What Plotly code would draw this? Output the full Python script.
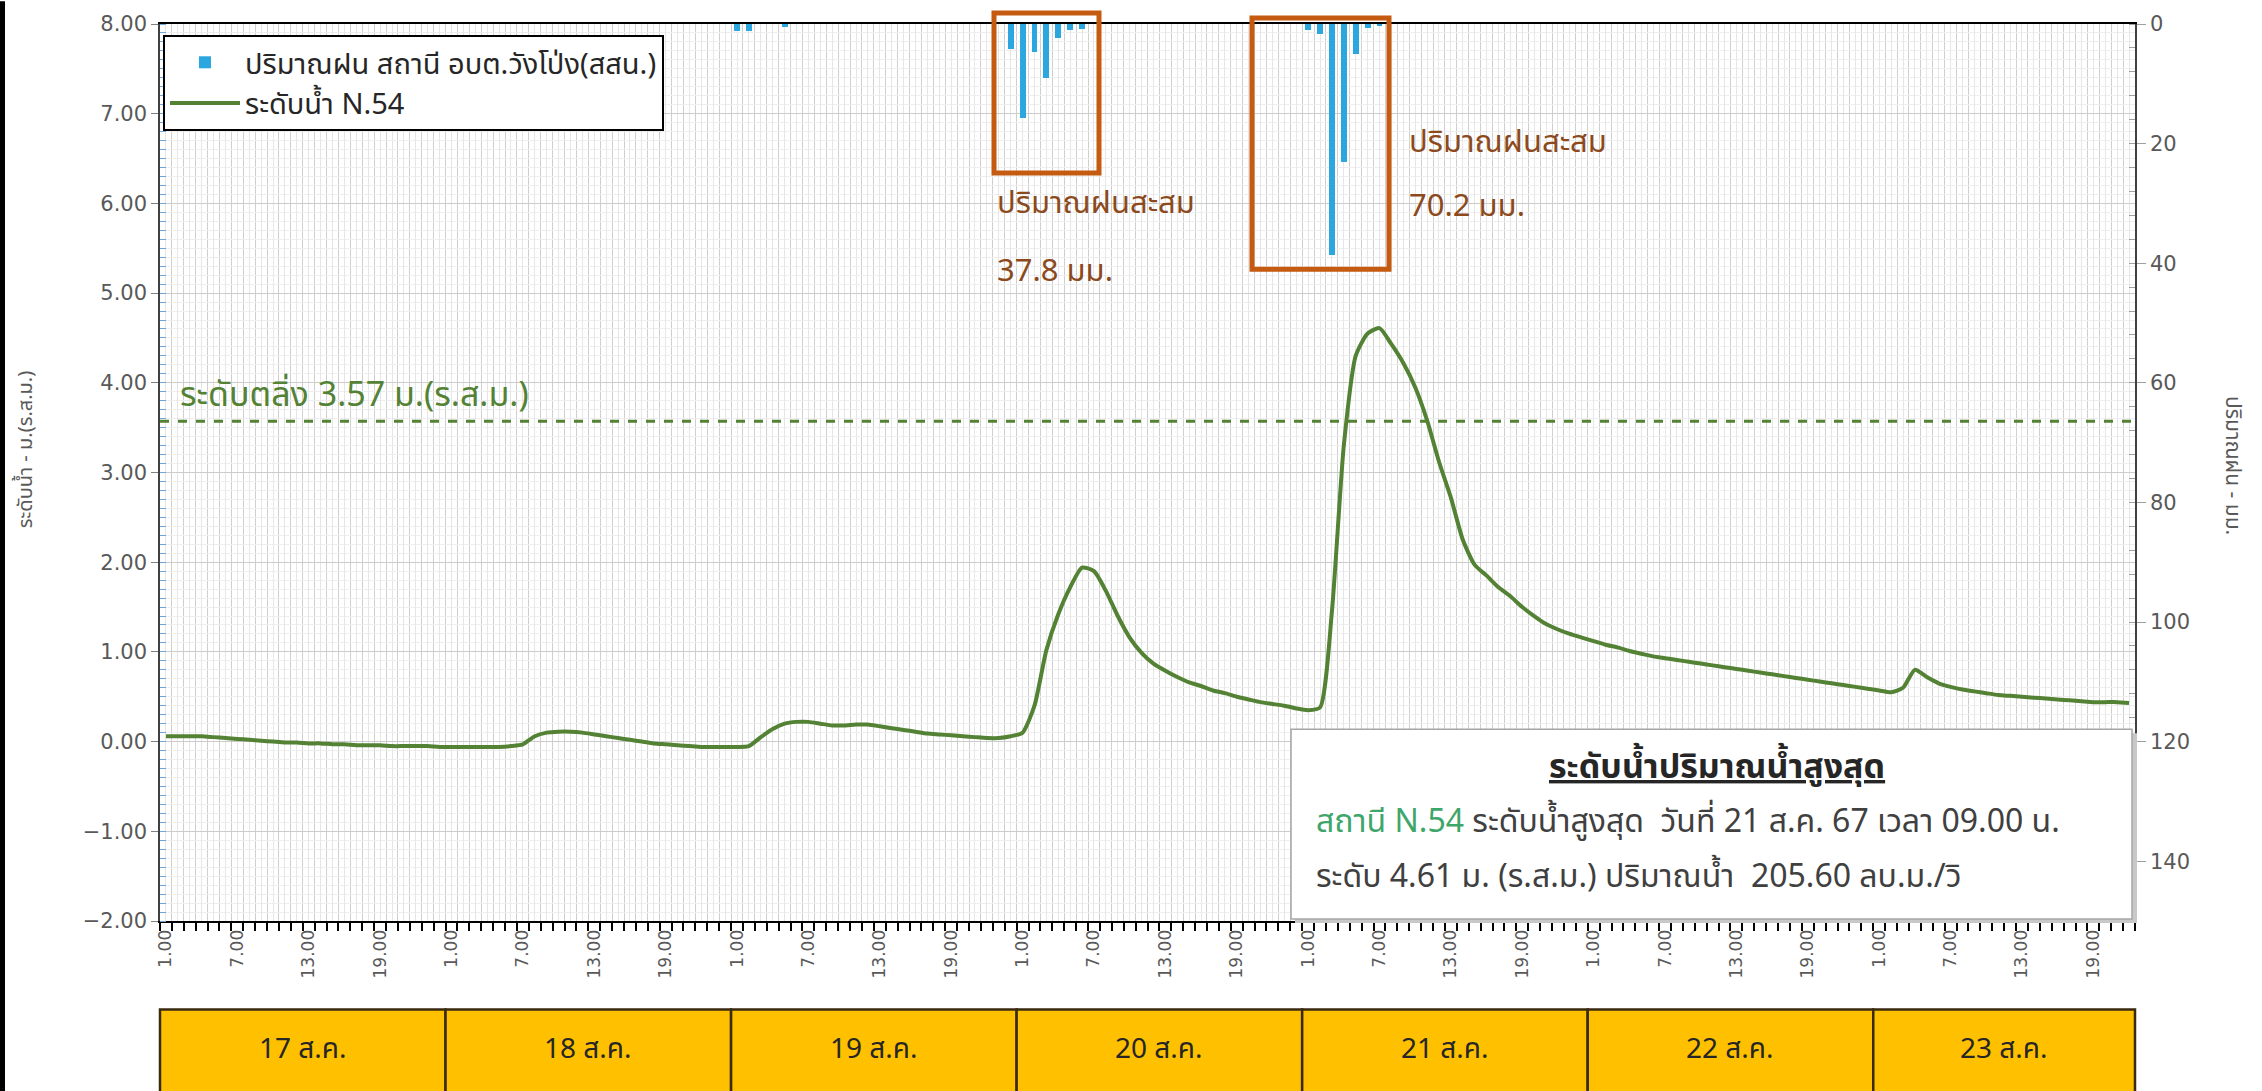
import plotly.graph_objects as go

# ---------------- data ----------------
DAYS = ["17 ส.ค.", "18 ส.ค.", "19 ส.ค.", "20 ส.ค.", "21 ส.ค.", "22 ส.ค.", "23 ส.ค."]
HOUR_TICKS = {1: "1.00", 7: "7.00", 13: "13.00", 19: "19.00"}

# hourly water level N.54 (m. MSL), starting 17 Aug 1.00
water_level = [
    # 17 Aug
    0.06, 0.06, 0.06, 0.06, 0.05, 0.04, 0.03, 0.02, 0.01, 0.00, -0.01, -0.01,
    -0.02, -0.02, -0.03, -0.03, -0.04, -0.04, -0.04, -0.05, -0.05, -0.05, -0.05, -0.06,
    # 18 Aug
    -0.06, -0.06, -0.06, -0.06, -0.06, -0.05, -0.03, 0.06, 0.10, 0.11, 0.11, 0.10,
    0.08, 0.06, 0.04, 0.02, 0.00, -0.02, -0.03, -0.04, -0.05, -0.06, -0.06, -0.06,
    # 19 Aug
    -0.06, -0.05, 0.05, 0.14, 0.20, 0.22, 0.22, 0.20, 0.18, 0.18, 0.19, 0.19,
    0.17, 0.15, 0.13, 0.11, 0.09, 0.08, 0.07, 0.06, 0.05, 0.04, 0.04, 0.06,
    # 20 Aug
    0.10, 0.40, 1.02, 1.42, 1.72, 1.94, 1.90, 1.68, 1.40, 1.16, 0.99, 0.87,
    0.79, 0.72, 0.66, 0.62, 0.57, 0.54, 0.50, 0.47, 0.44, 0.42, 0.40, 0.37,
    # 21 Aug
    0.35, 0.38, 1.45, 3.30, 4.30, 4.55, 4.61, 4.43, 4.22, 3.95, 3.58, 3.12,
    2.72, 2.25, 1.97, 1.85, 1.72, 1.62, 1.50, 1.40, 1.31, 1.25, 1.20, 1.16,
    # 22 Aug
    1.12, 1.08, 1.05, 1.01, 0.98, 0.95, 0.93, 0.91, 0.89, 0.87, 0.85, 0.83,
    0.81, 0.79, 0.77, 0.75, 0.73, 0.71, 0.69, 0.67, 0.65, 0.63, 0.61, 0.59,
    # 23 Aug
    0.57, 0.55, 0.60, 0.80, 0.72, 0.65, 0.61, 0.58, 0.56, 0.54, 0.52, 0.51,
    0.50, 0.49, 0.48, 0.47, 0.46, 0.45, 0.44, 0.44, 0.44, 0.43,
]

# hourly rainfall (mm) at the hours where rain fell (index from 17 Aug 1.00)
rain_index = [48, 49, 52, 71, 72, 73, 74, 75, 76, 77, 96, 97, 98, 99, 100, 101, 102]
rain_mm = [1.2, 1.2, 0.5, 4.2, 15.8, 4.6, 9.0, 2.4, 1.0, 0.8, 1.0, 1.6, 38.6, 23.0, 5.0, 0.6, 0.4]

BANK_LEVEL = 3.57
RAIN_TOTALS = ["37.8 มม.", "70.2 มม."]

N = len(water_level)
hours = list(range(N))

# ---------------- styling ----------------
THAI = "Noto Sans Thai, Leelawadee UI, Tahoma, Noto Sans, sans-serif"
NUM = "DejaVu Sans, Verdana, sans-serif"
GREEN = "#548235"
ORANGE = "#c55a11"
BROWN = "#8c4a1c"
GREY_TXT = "#595959"

tickvals = hours
ticktext = [HOUR_TICKS.get(i % 24 + 1, "") for i in hours]

fig = go.Figure()

fig.add_trace(go.Bar(
    x=rain_index, y=rain_mm, yaxis="y2", width=0.5,
    name="ปริมาณฝน สถานี อบต.วังโป่ง(สสน.)",
    marker=dict(color="#2ba6de", line=dict(width=0)),
))
fig.add_trace(go.Scatter(
    x=hours, y=water_level, mode="lines", name="ระดับน้ำ N.54",
    line=dict(color=GREEN, width=4, shape="spline", smoothing=0.6),
))

ML, MR, MT, MB = 160, 127, 18, 170
W, H = 2262, 1091
PW, PH = W - ML - MR, H - MT - MB


def px(xf):
    return (xf - ML) / PW


def py(yf):
    return 1 - (yf - MT) / PH


fig.update_layout(
    width=W, height=H,
    margin=dict(l=ML, r=MR, t=MT, b=MB),
    paper_bgcolor="white", plot_bgcolor="white",
    bargap=0,
    showlegend=True,
    legend=dict(
        x=px(163), y=py(29), xanchor="left", yanchor="top",
        bgcolor="white", bordercolor="black", borderwidth=2,
        font=dict(family=THAI, size=29, color="#262626"),
        tracegroupgap=6, itemwidth=70,
    ),
    xaxis=dict(
        range=[-0.5, N - 0.5],
        tickmode="array", tickvals=tickvals, ticktext=ticktext,
        tickangle=-90, ticks="outside", ticklen=0,
        tickfont=dict(family=NUM, size=17, color=GREY_TXT),
        showgrid=True, gridcolor="#e6e6e6", gridwidth=1,
        showline=True, linecolor="black", linewidth=2, mirror=True,
        zeroline=False,
        minor=dict(tick0=-0.5, dtick=1, ticks="outside", ticklen=8, tickwidth=2,
                   tickcolor="black", showgrid=True, gridcolor="#cfcfcf", gridwidth=1),
    ),
    yaxis=dict(
        range=[-2, 8], tickmode="linear", tick0=-2, dtick=1, tickformat=".2f",
        tickfont=dict(family=NUM, size=21, color=GREY_TXT),
        ticks="outside", ticklen=7, tickcolor="#808080",
        showgrid=True, gridcolor="#cccccc", gridwidth=1,
        showline=True, linecolor="#404040", linewidth=1.5,
        zeroline=False,
        minor=dict(dtick=0.1, ticks="inside", ticklen=6, tickcolor="#6fa8dc",
                   showgrid=True, gridcolor="#eeeeee", gridwidth=1),
    ),
    yaxis2=dict(
        overlaying="y", side="right", range=[150, 0],
        tickmode="linear", tick0=0, dtick=20,
        tickfont=dict(family=NUM, size=21, color=GREY_TXT),
        ticks="outside", ticklen=9, tickcolor="#a0a0a0",
        showgrid=False, zeroline=False,
        showline=True, linecolor="#404040", linewidth=1.5,
        minor=dict(dtick=4, ticks="inside", ticklen=6, tickcolor="#a0a0a0", showgrid=False),
    ),
)

shapes = []
annotations = []

# bank level dashed line
shapes.append(dict(type="line", xref="paper", yref="y", x0=0, x1=1,
                   y0=BANK_LEVEL, y1=BANK_LEVEL,
                   line=dict(color=GREEN, width=3, dash="dash"), layer="above"))
annotations.append(dict(xref="paper", yref="paper", x=px(178), y=py(392),
                        xanchor="left", yanchor="middle", showarrow=False,
                        text=f"ระดับตลิ่ง {BANK_LEVEL:.2f} ม.(ร.ส.ม.)",
                        font=dict(family=THAI, size=34, color=GREEN)))

# rainfall accumulation frames
frames = [((994, 7), (1099, 168)), ((1252, 12), (1389, 265))]
for (x0, y0), (x1, y1) in frames:
    shapes.append(dict(type="rect", xref="paper", yref="paper",
                       x0=px(x0), x1=px(x1), y0=py(y1), y1=py(y0),
                       line=dict(color=ORANGE, width=5), fillcolor="rgba(0,0,0,0)",
                       layer="above"))
notes = [((995, 199), (995, 267)), ((1407, 137), (1407, 202))]
for (a, b), tot in zip(notes, RAIN_TOTALS):
    annotations.append(dict(xref="paper", yref="paper", x=px(a[0]), y=py(a[1]),
                            xanchor="left", yanchor="middle", showarrow=False,
                            text="ปริมาณฝนสะสม",
                            font=dict(family=THAI, size=31, color=BROWN)))
    annotations.append(dict(xref="paper", yref="paper", x=px(b[0]), y=py(b[1]),
                            xanchor="left", yanchor="middle", showarrow=False,
                            text=tot, font=dict(family=THAI, size=31, color=BROWN)))

# info box with shadow
shapes.append(dict(type="rect", xref="paper", yref="paper",
                   x0=px(1295), x1=px(2137), y0=py(923), y1=py(732),
                   line=dict(width=0), fillcolor="#c8c8c8", layer="above"))
shapes.append(dict(type="rect", xref="paper", yref="paper",
                   x0=px(1291), x1=px(2132), y0=py(919), y1=py(728),
                   line=dict(color="#a6a6a6", width=1.5), fillcolor="white", layer="above"))
annotations.append(dict(xref="paper", yref="paper", x=px(1717), y=py(766),
                        xanchor="center", yanchor="middle", showarrow=False,
                        text="<span style='text-decoration:underline'><b>ระดับน้ำปริมาณน้ำสูงสุด</b></span>",
                        font=dict(family=THAI, size=34, color="#262626")))
annotations.append(dict(xref="paper", yref="paper", x=px(1314), y=py(821),
                        xanchor="left", yanchor="middle", showarrow=False,
                        text="<span style='color:#3fa66b'>สถานี N.54</span> ระดับน้ำสูงสุด\u00a0 วันที่ 21 ส.ค. 67 เวลา 09.00 น.",
                        font=dict(family=THAI, size=32, color="#404040")))
annotations.append(dict(xref="paper", yref="paper", x=px(1314), y=py(877),
                        xanchor="left", yanchor="middle", showarrow=False,
                        text="ระดับ 4.61 ม. (ร.ส.ม.) ปริมาณน้ำ\u00a0 205.60 ลบ.ม./วิ",
                        font=dict(family=THAI, size=32, color="#404040")))

# axis titles
annotations.append(dict(xref="paper", yref="paper", x=px(26), y=py(447),
                        xanchor="center", yanchor="middle", showarrow=False,
                        textangle=-90, text="ระดับน้ำ - ม.(ร.ส.ม.)",
                        font=dict(family=THAI, size=20, color=GREY_TXT)))
annotations.append(dict(xref="paper", yref="paper", x=px(2233), y=py(462),
                        xanchor="center", yanchor="middle", showarrow=False,
                        textangle=90, text="ปริมาณฝน - มม.",
                        font=dict(family=THAI, size=21, color=GREY_TXT)))

# day boxes below the axis
for k, day in enumerate(DAYS):
    a = 24 * k - 0.5
    b = min(24 * (k + 1) - 0.5, N - 0.5)
    xa = (a + 0.5) / N
    xb = (b + 0.5) / N
    shapes.append(dict(type="rect", xref="paper", yref="paper",
                       x0=xa, x1=xb, y0=py(1095), y1=py(1010),
                       line=dict(color="#3a2a10", width=2.5), fillcolor="#ffc000"))
    annotations.append(dict(xref="paper", yref="paper", x=(xa + xb) / 2, y=py(1050),
                            xanchor="center", yanchor="middle", showarrow=False,
                            text=day, font=dict(family=THAI, size=28, color="#262626")))

# frame edge on the left of the picture
shapes.append(dict(type="rect", xref="paper", yref="paper", x0=px(0), x1=px(5),
                   y0=py(H + 5), y1=py(-5), line=dict(width=0), fillcolor="black"))

fig.update_layout(shapes=shapes, annotations=annotations)
fig.write_html("out.html", config={"displayModeBar": False},
               post_script="document.body.style.margin='0px';document.body.style.overflow='hidden';")
